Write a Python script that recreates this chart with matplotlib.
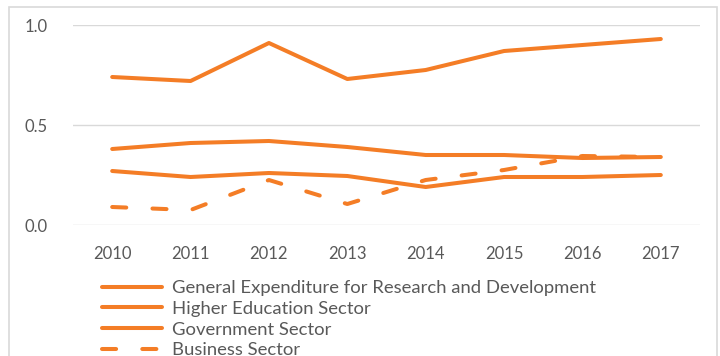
import matplotlib
matplotlib.use("Agg")
import matplotlib.pyplot as plt
import matplotlib.patches as patches

years = ["2010", "2011", "2012", "2013", "2014", "2015", "2016", "2017"]
gerd = [0.74, 0.72, 0.91, 0.73, 0.775, 0.87, 0.90, 0.93]
higher_edu = [0.38, 0.41, 0.42, 0.39, 0.35, 0.35, 0.335, 0.34]
government = [0.27, 0.24, 0.26, 0.245, 0.19, 0.24, 0.24, 0.25]
business = [0.09, 0.075, 0.225, 0.105, 0.225, 0.275, 0.345, 0.34]

ORANGE = "#F47D26"
GREY = "#595959"
GRID = "#D9D9D9"

plt.rcParams["font.family"] = ["Lato", "DejaVu Sans"]

fig = plt.figure(figsize=(7.2, 3.56), dpi=100)
ax = fig.add_axes([73 / 720, 1 - 225 / 356, 627 / 720, 200 / 356])

# outer chart border (runs off the bottom of the image)
border = patches.Rectangle((9 / 720, -0.2), 708 / 720, 1.2 - 7 / 356,
                           transform=fig.transFigure, fill=False,
                           edgecolor=GRID, linewidth=1.2)
fig.patches.append(border)

x = list(range(len(years)))
lw = 2.9
ax.plot(x, gerd, color=ORANGE, lw=lw, solid_capstyle="round",
        label="General Expenditure for Research and Development")
ax.plot(x, higher_edu, color=ORANGE, lw=lw, solid_capstyle="round",
        label="Higher Education Sector")
ax.plot(x, government, color=ORANGE, lw=lw, solid_capstyle="round",
        label="Government Sector")
bl, = ax.plot(x, business, color=ORANGE, lw=lw, dash_capstyle="round",
              label="Business Sector")
bl.set_dashes((3.5, 6.5))

ax.set_xlim(-0.5, len(years) - 0.5)
ax.set_ylim(0, 1.0)
ax.set_yticks([0.0, 0.5, 1.0])
ax.set_yticklabels(["0.0", "0.5", "1.0"])
ax.set_xticks(x)
ax.set_xticklabels(years)
ax.tick_params(axis="both", length=0, labelsize=12, colors=GREY)
ax.tick_params(axis="y", pad=18)
ax.tick_params(axis="x", pad=15)
ax.grid(axis="y", color=GRID, linewidth=1)
ax.set_axisbelow(True)
for s in ax.spines.values():
    s.set_visible(False)

leg = ax.legend(loc="upper left", bbox_to_anchor=(102 / 720, 1 - 280 / 356),
                bbox_transform=fig.transFigure, frameon=False, fontsize=13.3,
                handlelength=3.25, handletextpad=0.55, labelspacing=0.26,
                borderpad=0, borderaxespad=0)
for t in leg.get_texts():
    t.set_color(GREY)

fig.savefig("out.png", dpi=100)
